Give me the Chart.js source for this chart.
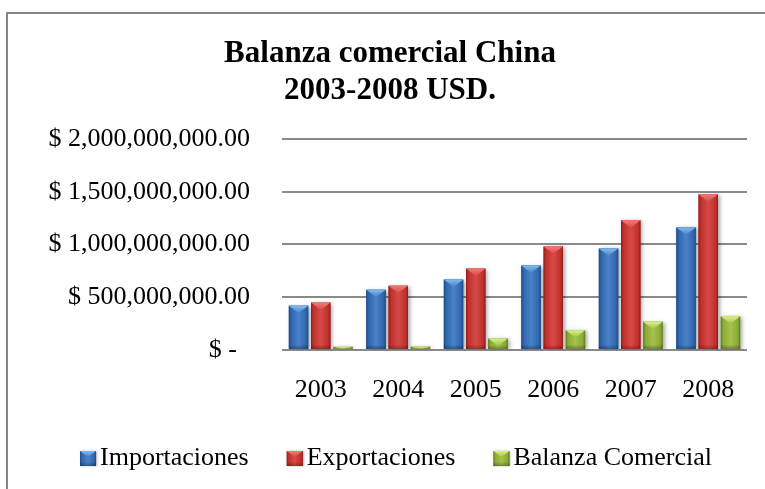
<!DOCTYPE html>
<html>
<head>
<meta charset="utf-8">
<script src="https://cdn.jsdelivr.net/npm/chart.js@4.4.1/dist/chart.umd.min.js"></script>
<style>
  html, body { margin: 0; padding: 0; background: #fff; }
  canvas { display: block; }
</style>
</head>
<body>
<canvas id="chart" width="765" height="489"></canvas>
<script>
// Data (USD)
const years = ['2003', '2004', '2005', '2006', '2007', '2008'];
const importaciones = [419e6, 571e6, 667e6, 800e6, 962e6, 1162e6];
const exportaciones = [448e6, 609e6, 771e6, 981e6, 1229e6, 1476e6];
const balanza = [28e6, 30e6, 108e6, 186e6, 267e6, 318e6];
const yTicks = [0, 5e8, 1e9, 1.5e9, 2e9];
const seriesNames = ['Importaciones', 'Exportaciones', 'Balanza Comercial'];

// dark edge, body, light centre, bevel top
const palette = [
  { dark: '#1d4a86', mid: '#2f66ae', light: '#4a82c8', top: '#7cbcf2' },
  { dark: '#8e1e1c', mid: '#c0302d', light: '#d64a46', top: '#f37a78' },
  { dark: '#5f7a20', mid: '#8aab36', light: '#a2c24c', top: '#dcf284' },
];

const serif = '"Liberation Serif", "Times New Roman", serif';

// Draw one bevelled bar
function drawBevelBar(ctx, left, top, width, bottom, c) {
  const h = bottom - top;
  if (h <= 0) return;
  const g = ctx.createLinearGradient(left, 0, left + width, 0);
  g.addColorStop(0, c.dark);
  g.addColorStop(0.12, c.mid);
  g.addColorStop(0.5, c.light);
  g.addColorStop(0.88, c.mid);
  g.addColorStop(1, c.dark);
  ctx.fillStyle = g;
  ctx.fillRect(left, top, width, h);

  // darker bottom strip
  const sb = Math.min(4, h / 3);
  const gb = ctx.createLinearGradient(0, bottom - sb, 0, bottom);
  gb.addColorStop(0, 'rgba(0,0,0,0)');
  gb.addColorStop(1, 'rgba(0,0,0,0.3)');
  ctx.fillStyle = gb;
  ctx.fillRect(left, bottom - sb, width, sb);

  // top chevron
  const ch = Math.min(width * 0.38, h);
  const gt = ctx.createLinearGradient(0, top, 0, top + ch);
  gt.addColorStop(0, c.top);
  gt.addColorStop(1, c.light);
  ctx.fillStyle = gt;
  ctx.beginPath();
  ctx.moveTo(left, top);
  ctx.lineTo(left + width, top);
  ctx.lineTo(left + width / 2, top + ch);
  ctx.closePath();
  ctx.fill();
}

// Bevel + shadow for the bars
const bevelPlugin = {
  id: 'bevel',
  beforeDatasetsDraw(chart) {
    const ctx = chart.ctx;
    ctx.save();
    ctx.shadowColor = 'rgba(0,0,0,0.35)';
    ctx.shadowBlur = 4;
    ctx.shadowOffsetX = 2;
    ctx.shadowOffsetY = 1;
  },
  afterDatasetsDraw(chart) {
    const ctx = chart.ctx;
    ctx.restore();
    chart.data.datasets.forEach((ds, i) => {
      const meta = chart.getDatasetMeta(i);
      meta.data.forEach((bar) => {
        const p = bar.getProps(['x', 'y', 'base', 'width'], true);
        drawBevelBar(ctx, p.x - p.width / 2, p.y, p.width, p.base, palette[i]);
      });
    });
  },
};

// Outer chart frame (right and bottom edges fall outside the picture)
const framePlugin = {
  id: 'frame',
  beforeDraw(chart) {
    const ctx = chart.ctx;
    ctx.save();
    ctx.fillStyle = '#fff';
    ctx.fillRect(0, 0, chart.width, chart.height);
    ctx.strokeStyle = '#868686';
    ctx.lineWidth = 2;
    ctx.strokeRect(7, 13, chart.width + 40, chart.height + 40);
    ctx.restore();
  },
};

// Legend with small bevelled boxes
const legendPlugin = {
  id: 'bevelLegend',
  afterDraw(chart) {
    const ctx = chart.ctx;
    const box = 16;
    const gapText = 4;
    const gapItem = 38;
    const centerX = 396;
    const midY = chart.height - 31;
    ctx.save();
    ctx.font = '26px ' + serif;
    ctx.textBaseline = 'middle';
    ctx.textAlign = 'left';
    const widths = seriesNames.map((t) => ctx.measureText(t).width);
    const total = widths.reduce((a, w) => a + box + gapText + w, 0) + gapItem * (seriesNames.length - 1);
    let x = centerX - total / 2;
    seriesNames.forEach((name, i) => {
      ctx.save();
      ctx.shadowColor = 'rgba(0,0,0,0.3)';
      ctx.shadowBlur = 2;
      ctx.shadowOffsetX = 1;
      ctx.fillStyle = palette[i].mid;
      ctx.fillRect(x, midY - 7, box, 15);
      ctx.restore();
      drawBevelBar(ctx, x, midY - 7, box, midY + 8, palette[i]);
      ctx.fillStyle = '#000';
      ctx.fillText(name, x + box + gapText, midY);
      x += box + gapText + widths[i] + gapItem;
    });
    ctx.restore();
  },
};

function money(v) {
  if (v === 0) return '$ -  ';
  return '$ ' + v.toLocaleString('en-US', { minimumFractionDigits: 2, maximumFractionDigits: 2 });
}

const series = [importaciones, exportaciones, balanza];

new Chart(document.getElementById('chart'), {
  type: 'bar',
  data: {
    labels: years,
    datasets: series.map((values, i) => ({
      label: seriesNames[i],
      data: values,
      backgroundColor: palette[i].mid,
      borderWidth: 0,
      categoryPercentage: 0.86,
      barPercentage: 0.875,
    })),
  },
  options: {
    responsive: false,
    devicePixelRatio: 1,
    animation: false,
    layout: {
      padding: { top: 12, left: 33, right: 18, bottom: 66 },
    },
    plugins: {
      legend: { display: false },
      tooltip: { enabled: false },
      title: {
        display: true,
        text: ['Balanza comercial China', '2003-2008 USD.'],
        color: '#000',
        font: { family: serif, size: 31, weight: 'bold', lineHeight: 1.18 },
        padding: { top: 24, bottom: 30 },
      },
    },
    scales: {
      x: {
        grid: { display: false },
        border: { display: false },
        ticks: {
          color: '#000',
          padding: 17,
          font: { family: serif, size: 26 },
        },
      },
      y: {
        min: 0,
        max: yTicks[yTicks.length - 1],
        afterBuildTicks(scale) {
          scale.ticks = yTicks.map((v) => ({ value: v }));
        },
        afterFit(scale) {
          scale.width = 249;
        },
        grid: { color: '#8a8a8a', lineWidth: 2, drawTicks: false },
        border: { display: false },
        ticks: {
          color: '#000',
          padding: 32,
          font: { family: serif, size: 26 },
          callback: (v) => money(v),
        },
      },
    },
  },
  plugins: [framePlugin, bevelPlugin, legendPlugin],
});
</script>
</body>
</html>
